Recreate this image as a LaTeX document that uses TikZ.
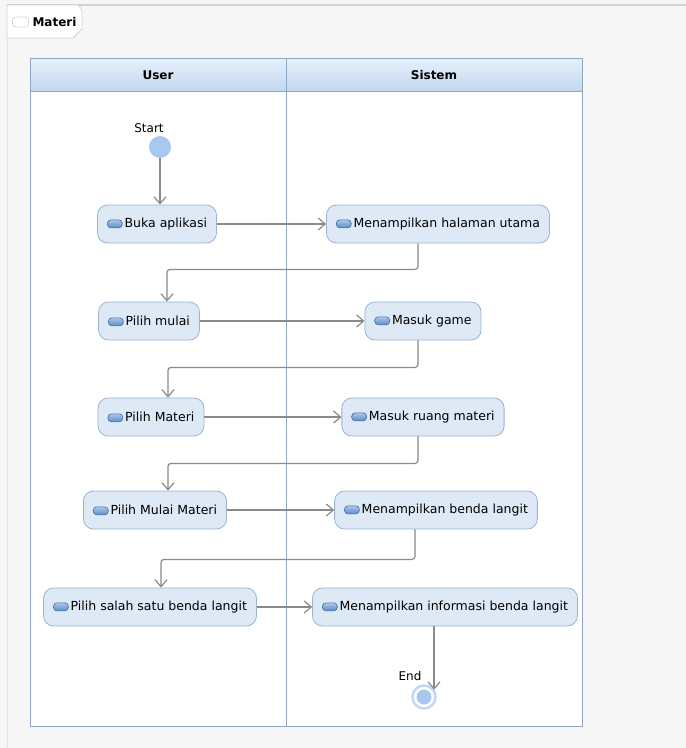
\documentclass[tikz,border=0pt]{standalone}
\usepackage{fontspec}
\setmainfont{DejaVu Sans}
\usetikzlibrary{arrows.meta,positioning}

\definecolor{pagebg}{HTML}{F6F6F6}
\definecolor{framegray}{HTML}{D2D2D2}
\definecolor{laneline}{HTML}{8EA7C4}
\definecolor{headtop}{HTML}{E6F0FB}
\definecolor{headbot}{HTML}{C2D7EE}
\definecolor{actfill}{HTML}{DEE9F6}
\definecolor{actline}{HTML}{9AB3CF}
\definecolor{flowgray}{HTML}{8A8A8A}
\definecolor{dotfill}{HTML}{A8C9EE}
\definecolor{pilltop}{HTML}{A9C6EA}
\definecolor{pillbot}{HTML}{5E8DC6}
\definecolor{pillline}{HTML}{3E6AA0}

\tikzset{
    action/.style={draw=actline, fill=actfill, line width=0.8pt,
        rounded corners=10pt, minimum height=38pt, inner xsep=9.5pt,
        font=\fontsize{12.5}{15}\selectfont},
    flow/.style={draw=flowgray, line width=1.2pt, rounded corners=3pt,
        -{Straight Barb[length=7pt,width=12pt]}},
    lanehead/.style={font=\bfseries\fontsize{12}{14}\selectfont},
    dotlabel/.style={font=\fontsize{12}{14}\selectfont}
}

\newcommand{\actpill}{\tikz[baseline=-7.6pt]\shade[top color=pilltop,
    bottom color=pillbot, draw=pillline, line width=0.6pt,
    rounded corners=3.6pt] (0pt,0pt) rectangle (15pt,-8pt);\hspace{2pt}}

\begin{document}
\begin{tikzpicture}[x=1pt,y=-1pt]
    \useasboundingbox (0,0) rectangle (686,748);
    % page and frame
    \fill[pagebg] (0,0) rectangle (686,748);
    \draw[framegray, line width=1.5pt] (7,5) -- (686,5);
    \draw[framegray!60, line width=0.8pt] (7,5) -- (7,748);
    \draw[framegray, fill=white, line width=0.8pt]
        (7,38) -- (7,5) -- (78,5) [rounded corners=3pt] -- (82,9) [sharp corners]
        -- (82,29) -- (73,38) -- cycle;
    \node[anchor=west, inner sep=0pt] (frameicon) at (12,22)
        {\tikz\draw[laneline, densely dotted, line width=0.7pt, rounded corners=3pt]
            (0pt,0pt) rectangle (16pt,-10pt);};
    \node[anchor=west, font=\bfseries\fontsize{12}{14}\selectfont] (frametitle)
        at (29,22) {Materi};

    % swimlanes
    \fill[white] (30,58) rectangle (582,726);
    \shade[top color=headtop, bottom color=headbot] (30,58) rectangle (582,91);
    \draw[laneline, line width=0.9pt] (30,58) rectangle (582,726);
    \draw[laneline, line width=0.9pt] (30,91) -- (582,91);
    \draw[laneline, line width=0.9pt] (286,58) -- (286,726);
    \node[lanehead] (userlane) at (158,75) {User};
    \node[lanehead] (sistemlane) at (434,75) {Sistem};

    % start and end
    \node[circle, fill=dotfill, minimum size=22pt, inner sep=0pt] (start) at (160,147) {};
    \node[dotlabel] (startlbl) at (149,128) {Start};
    \node[circle, draw=dotfill!70, line width=2.6pt, fill=white,
        minimum size=23pt, inner sep=0pt] (end) at (424,697) {};
    \node[circle, fill=dotfill, minimum size=15pt, inner sep=0pt] (enddot) at (end) {};
    \node[dotlabel] (endlbl) at (410,676) {End};

    % actions
    \node[action] (buka)   at (157,224) {\actpill Buka aplikasi};
    \node[action] (utama)  at (438,224) {\actpill Menampilkan halaman utama};
    \node[action] (mulai)  at (149,321) {\actpill Pilih mulai};
    \node[action] (game)   at (423,321) {\actpill Masuk game};
    \node[action] (materi) at (151,417) {\actpill Pilih Materi};
    \node[action] (ruang)  at (423,417) {\actpill Masuk ruang materi};
    \node[action] (mulaimateri) at (155,510) {\actpill Pilih Mulai Materi};
    \node[action] (benda)  at (436,510) {\actpill Menampilkan benda langit};
    \node[action] (salah)  at (150,607) {\actpill Pilih salah satu benda langit};
    \node[action] (info)   at (445,607) {\actpill Menampilkan informasi benda langit};

    % flows
    \draw[flow] (start.south) -- (start.south |- buka.north);
    \draw[flow] (buka.east) -- (utama.west);
    \draw[flow] ([xshift=-20pt]utama.south) -- ++(0,26) -| ([xshift=18pt]mulai.north);
    \draw[flow] (mulai.east) -- (game.west);
    \draw[flow] ([xshift=-5pt]game.south) -- ++(0,27) -| ([xshift=17pt]materi.north);
    \draw[flow] (materi.east) -- (ruang.west);
    \draw[flow] ([xshift=-5pt]ruang.south) -- ++(0,27) -| ([xshift=13pt]mulaimateri.north);
    \draw[flow] (mulaimateri.east) -- (benda.west);
    \draw[flow] ([xshift=-21pt]benda.south) -- ++(0,30) -| ([xshift=11pt]salah.north);
    \draw[flow] (salah.east) -- (info.west);
    \draw[flow] ([xshift=-11pt]info.south) -- ([xshift=-11pt]info.south |- end.35);
\end{tikzpicture}
\end{document}
